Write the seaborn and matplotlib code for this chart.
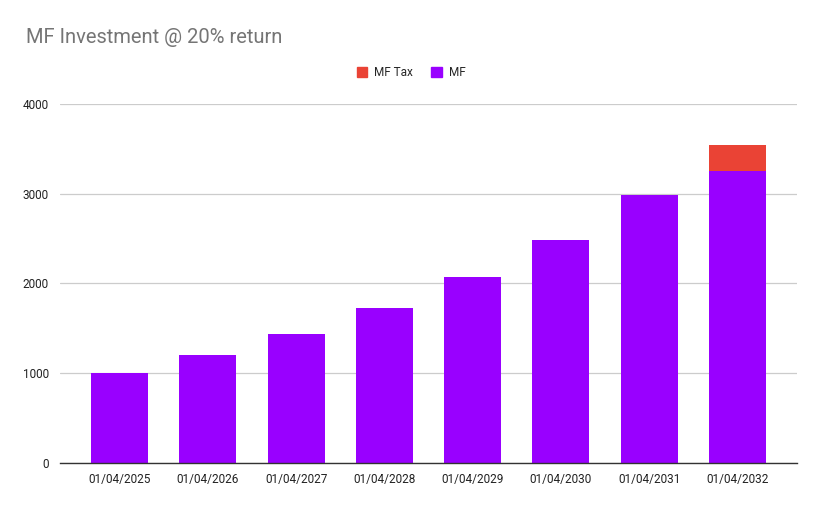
import matplotlib
matplotlib.use("Agg")
import matplotlib.pyplot as plt
import matplotlib.patches as mpatches
import seaborn as sns
import pandas as pd

# values
dates = ["01/04/2025", "01/04/2026", "01/04/2027", "01/04/2028",
         "01/04/2029", "01/04/2030", "01/04/2031", "01/04/2032"]
mf = [1000, 1200, 1440, 1728, 2074, 2488, 2986, 3250]
mf_tax = [0, 0, 0, 0, 0, 0, 0, 290]

df = pd.DataFrame({"date": dates, "MF": mf, "MF Tax": mf_tax})
df["total"] = df["MF"] + df["MF Tax"]

sns.set_style("white")
plt.rcParams["font.family"] = ["Roboto", "DejaVu Sans"]

fig = plt.figure(figsize=(8.22, 5.09), dpi=100)
ax = fig.add_axes([0.073, 0.0904, 0.8966, 0.7053])

tax_color = "#ea4335"
mf_color = "#9900ff"

# stacked: draw totals first (tax on top), then MF over them
sns.barplot(data=df, x="date", y="total", color=tax_color, width=0.645,
            saturation=1, linewidth=0, ax=ax, zorder=2)
sns.barplot(data=df, x="date", y="MF", color=mf_color, width=0.645,
            saturation=1, linewidth=0, ax=ax, zorder=3)

ax.set_ylim(0, 4000)
ax.set_yticks([0, 1000, 2000, 3000, 4000])
ax.set_xlim(-0.674, 7.674)
ax.grid(axis="y", color="#cccccc", linewidth=0.9, zorder=0)
ax.set_axisbelow(True)
for s in ["top", "right", "left"]:
    ax.spines[s].set_visible(False)
ax.spines["bottom"].set_color("#333333")
ax.spines["bottom"].set_linewidth(1.0)
ax.spines["bottom"].set_zorder(5)
ax.tick_params(axis="both", length=0, labelsize=8.5, labelcolor="#222222")
ax.tick_params(axis="x", pad=7)
ax.tick_params(axis="y", pad=8)
ax.set_xlabel("")
ax.set_ylabel("")

fig.text(0.032, 0.927, "MF Investment @ 20% return", fontsize=14.5,
         color="#757575", ha="left", va="center")

handles = [mpatches.Patch(color=tax_color, label="MF Tax"),
           mpatches.Patch(color=mf_color, label="MF")]
fig.legend(handles=handles, loc="center", bbox_to_anchor=(0.5, 0.858),
           ncol=2, frameon=False, fontsize=8.5, handlelength=0.9,
           handleheight=0.9, handletextpad=0.6, columnspacing=1.5)

fig.savefig("out.png", dpi=100)
